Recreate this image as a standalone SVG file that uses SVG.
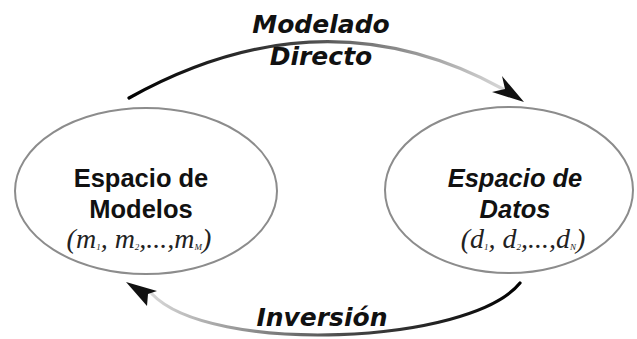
<svg xmlns="http://www.w3.org/2000/svg" width="637" height="339" viewBox="0 0 637 339">
<style>
.node{fill:#fff;stroke:#8c8c8c;stroke-width:2}
.lbl{font-family:"DejaVu Sans",Verdana,sans-serif;font-weight:bold;font-style:italic;font-size:25px;fill:#111;text-anchor:middle}
.nt{font-family:"Liberation Sans",Arial,sans-serif;font-weight:bold;font-size:25.5px;fill:#111;text-anchor:middle}
.math{font-family:"Liberation Serif","Times New Roman",serif;font-style:italic;font-size:28px;fill:#222;text-anchor:middle}
.sub{font-size:9px}
.arc{fill:none;stroke-width:3.2;stroke-linecap:round}
.head{fill:#111}
</style>
<defs>
<linearGradient id="gTop" gradientUnits="userSpaceOnUse" x1="129" y1="0" x2="505" y2="0">
<stop offset="0" stop-color="#000"/>
<stop offset="0.45" stop-color="#444"/>
<stop offset="1" stop-color="#d8d8d8"/>
</linearGradient>
<linearGradient id="gBot" gradientUnits="userSpaceOnUse" x1="520" y1="0" x2="150" y2="0">
<stop offset="0" stop-color="#000"/>
<stop offset="0.45" stop-color="#444"/>
<stop offset="1" stop-color="#d8d8d8"/>
</linearGradient>
</defs>
<rect width="637" height="339" fill="#fff"/>
<g id="connectors">
<path class="arc" stroke="url(#gTop)" d="M129,98 Q323,-10 503,89"/>
<path class="head" d="M524,102 L492,92 L505,89 L502,76 Z"/>
<path class="arc" stroke="url(#gBot)" d="M520,283 C470,345 210,355 152,294"/>
<path class="head" d="M126,282 L157,291 L148,294 L147,306 Z"/>
</g>
<g id="label-directo">
<text class="lbl" x="321" y="33">Modelado</text>
<text class="lbl" x="321" y="65">Directo</text>
</g>
<g id="label-inversion">
<text class="lbl" font-size="26" x="322" y="326">Inversión</text>
</g>
<g id="node-modelos">
<ellipse class="node" cx="146" cy="191" rx="131" ry="83"/>
<text class="nt" x="141" y="187">Espacio de</text>
<text class="nt" x="141" y="218">Modelos</text>
<text class="math" x="139" y="248">(<tspan>m</tspan><tspan class="sub" dy="2">1</tspan><tspan dy="-2">, m</tspan><tspan class="sub" dy="2">2</tspan><tspan dy="-2">,...,m</tspan><tspan class="sub" dy="2">M</tspan><tspan dy="-2">)</tspan></text>
</g>
<g id="node-datos">
<ellipse class="node" cx="509" cy="190" rx="124" ry="83"/>
<text class="nt" font-style="italic" x="515" y="187">Espacio de</text>
<text class="nt" font-style="italic" x="515" y="218">Datos</text>
<text class="math" x="523" y="248">(<tspan>d</tspan><tspan class="sub" dy="2">1</tspan><tspan dy="-2">, d</tspan><tspan class="sub" dy="2">2</tspan><tspan dy="-2">,...,d</tspan><tspan class="sub" dy="2">N</tspan><tspan dy="-2">)</tspan></text>
</g>
</svg>
